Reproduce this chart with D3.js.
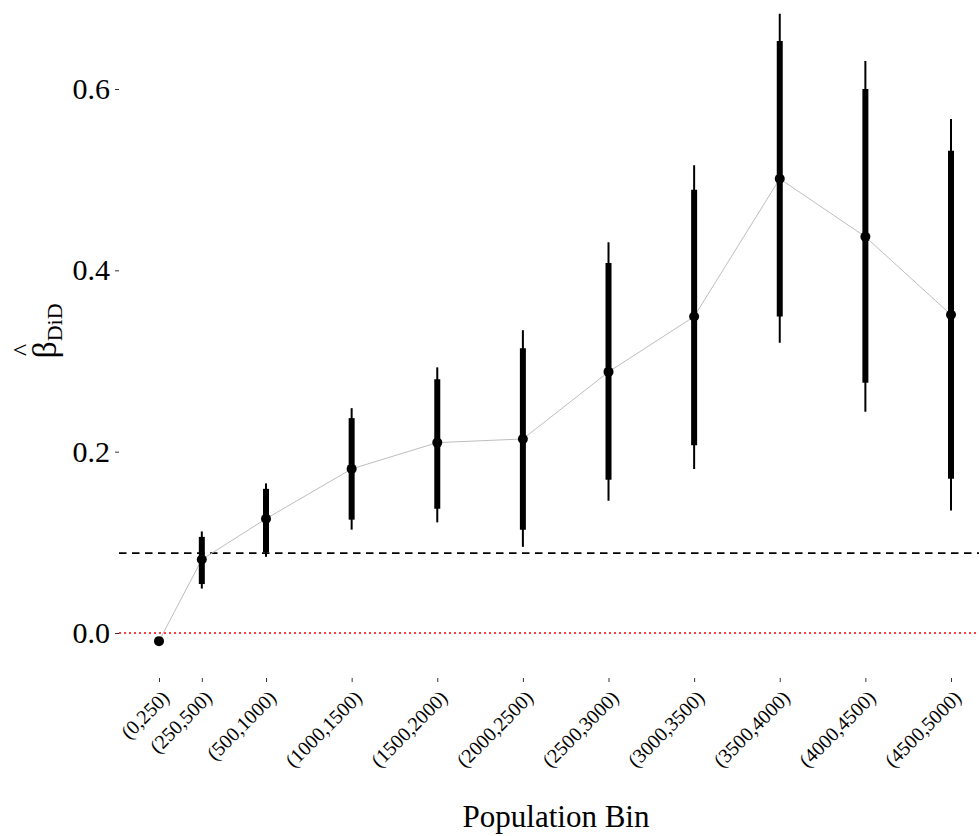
<!DOCTYPE html>
<html>
<head>
<meta charset="utf-8">
<script src="https://cdn.jsdelivr.net/npm/d3@7"></script>
<style>
  body { margin: 0; background: #fff; }
  svg { display: block; }
  svg text { font-family: "Liberation Serif", "Times New Roman", serif; }
</style>
</head>
<body>
<svg id="chart" width="979" height="836"></svg>
<script>
// data: bin labels, bin midpoints, estimates and two CI levels
const bins = ["(0,250)", "(250,500)", "(500,1000)", "(1000,1500)", "(1500,2000)", "(2000,2500)",
              "(2500,3000)", "(3000,3500)", "(3500,4000)", "(4000,4500)", "(4500,5000)"];
const mids = [125, 375, 750, 1250, 1750, 2250, 2750, 3250, 3750, 4250, 4750];
const est = [-0.009, 0.081, 0.126, 0.181, 0.210, 0.214, 0.288, 0.349, 0.501, 0.437, 0.351];
const lo90 = [-0.009, 0.054, 0.089, 0.125, 0.137, 0.114, 0.169, 0.207, 0.349, 0.276, 0.170];
const hi90 = [-0.009, 0.106, 0.159, 0.237, 0.280, 0.314, 0.408, 0.489, 0.653, 0.600, 0.532];
const lo95 = [-0.009, 0.049, 0.084, 0.114, 0.122, 0.095, 0.146, 0.181, 0.320, 0.244, 0.135];
const hi95 = [-0.009, 0.112, 0.165, 0.248, 0.293, 0.334, 0.431, 0.516, 0.683, 0.631, 0.567];
const yTicks = [0, 0.2, 0.4, 0.6];
const pooled = 0.088;

const svg = d3.select("#chart");
const panel = { left: 119, right: 979, top: 0, bottom: 678 };

const data = bins.map((b, i) => ({
  bin: b, mid: mids[i], est: est[i],
  lo90: lo90[i], hi90: hi90[i], lo95: lo95[i], hi95: hi95[i]
}));

// scales
const x = d3.scaleLinear().domain([125, 4750]).range([159, 951]);
const y = d3.scaleLinear().domain([0, 0.6]).range([633, 89]);

// reference lines
svg.append("line")
  .attr("x1", panel.left).attr("x2", panel.right)
  .attr("y1", y(0)).attr("y2", y(0))
  .attr("stroke", "#ff0000").attr("stroke-width", 1.5)
  .attr("stroke-dasharray", "2,3");

svg.append("line")
  .attr("x1", panel.left).attr("x2", panel.right)
  .attr("y1", y(pooled)).attr("y2", y(pooled))
  .attr("stroke", "#000").attr("stroke-width", 1.8)
  .attr("stroke-dasharray", "7.5,5.5");

// connecting line
svg.append("path")
  .datum(data)
  .attr("d", d3.line().x(d => x(d.mid)).y(d => y(d.est)))
  .attr("fill", "none")
  .attr("stroke", "#bebebe")
  .attr("stroke-width", 1);

// thin (95%) intervals
svg.selectAll(".ci95").data(data).enter().append("line")
  .attr("x1", d => x(d.mid)).attr("x2", d => x(d.mid))
  .attr("y1", d => y(d.lo95)).attr("y2", d => y(d.hi95))
  .attr("stroke", "#000").attr("stroke-width", 2);

// thick (90%) intervals
svg.selectAll(".ci90").data(data).enter().append("line")
  .attr("x1", d => x(d.mid)).attr("x2", d => x(d.mid))
  .attr("y1", d => y(d.lo90)).attr("y2", d => y(d.hi90))
  .attr("stroke", "#000").attr("stroke-width", 6);

// points
svg.selectAll(".pt").data(data).enter().append("circle")
  .attr("cx", d => x(d.mid)).attr("cy", d => y(d.est))
  .attr("r", 5).attr("fill", "#000");

// y axis
const yAxis = svg.append("g")
  .attr("transform", `translate(${panel.left},0)`)
  .call(d3.axisLeft(y).tickValues(yTicks).tickFormat(d3.format(".1f")).tickSize(4).tickPadding(5));
yAxis.select(".domain").remove();
yAxis.selectAll("line").attr("stroke", "#333");
yAxis.selectAll("text").attr("font-size", 30).attr("fill", "#000");

// x axis
const xAxis = svg.append("g")
  .attr("transform", `translate(0,${panel.bottom})`)
  .call(d3.axisBottom(x).tickValues(mids).tickFormat((d, i) => bins[i]).tickSize(4).tickPadding(0));
xAxis.select(".domain").remove();
xAxis.selectAll("line").attr("stroke", "#333");
xAxis.selectAll("text")
  .attr("font-size", 20).attr("fill", "#000")
  .attr("text-anchor", "end")
  .attr("dy", null).attr("y", 0)
  .attr("transform", "translate(11,21) rotate(-45)");

// axis titles
svg.append("text")
  .attr("x", 556).attr("y", 827)
  .attr("text-anchor", "middle")
  .attr("font-size", 31)
  .text("Population Bin");

const yt = svg.append("g")
  .attr("transform", "translate(56,331) rotate(-90)");
const ytxt = yt.append("text")
  .attr("text-anchor", "middle")
  .attr("font-size", 34);
ytxt.append("tspan").text("\u03B2");
ytxt.append("tspan").attr("font-size", 22).attr("dy", 6).text("DiD");
yt.append("text")
  .attr("x", -19).attr("y", -25)
  .attr("text-anchor", "middle")
  .attr("font-size", 26)
  .text("^");
</script>
</body>
</html>
